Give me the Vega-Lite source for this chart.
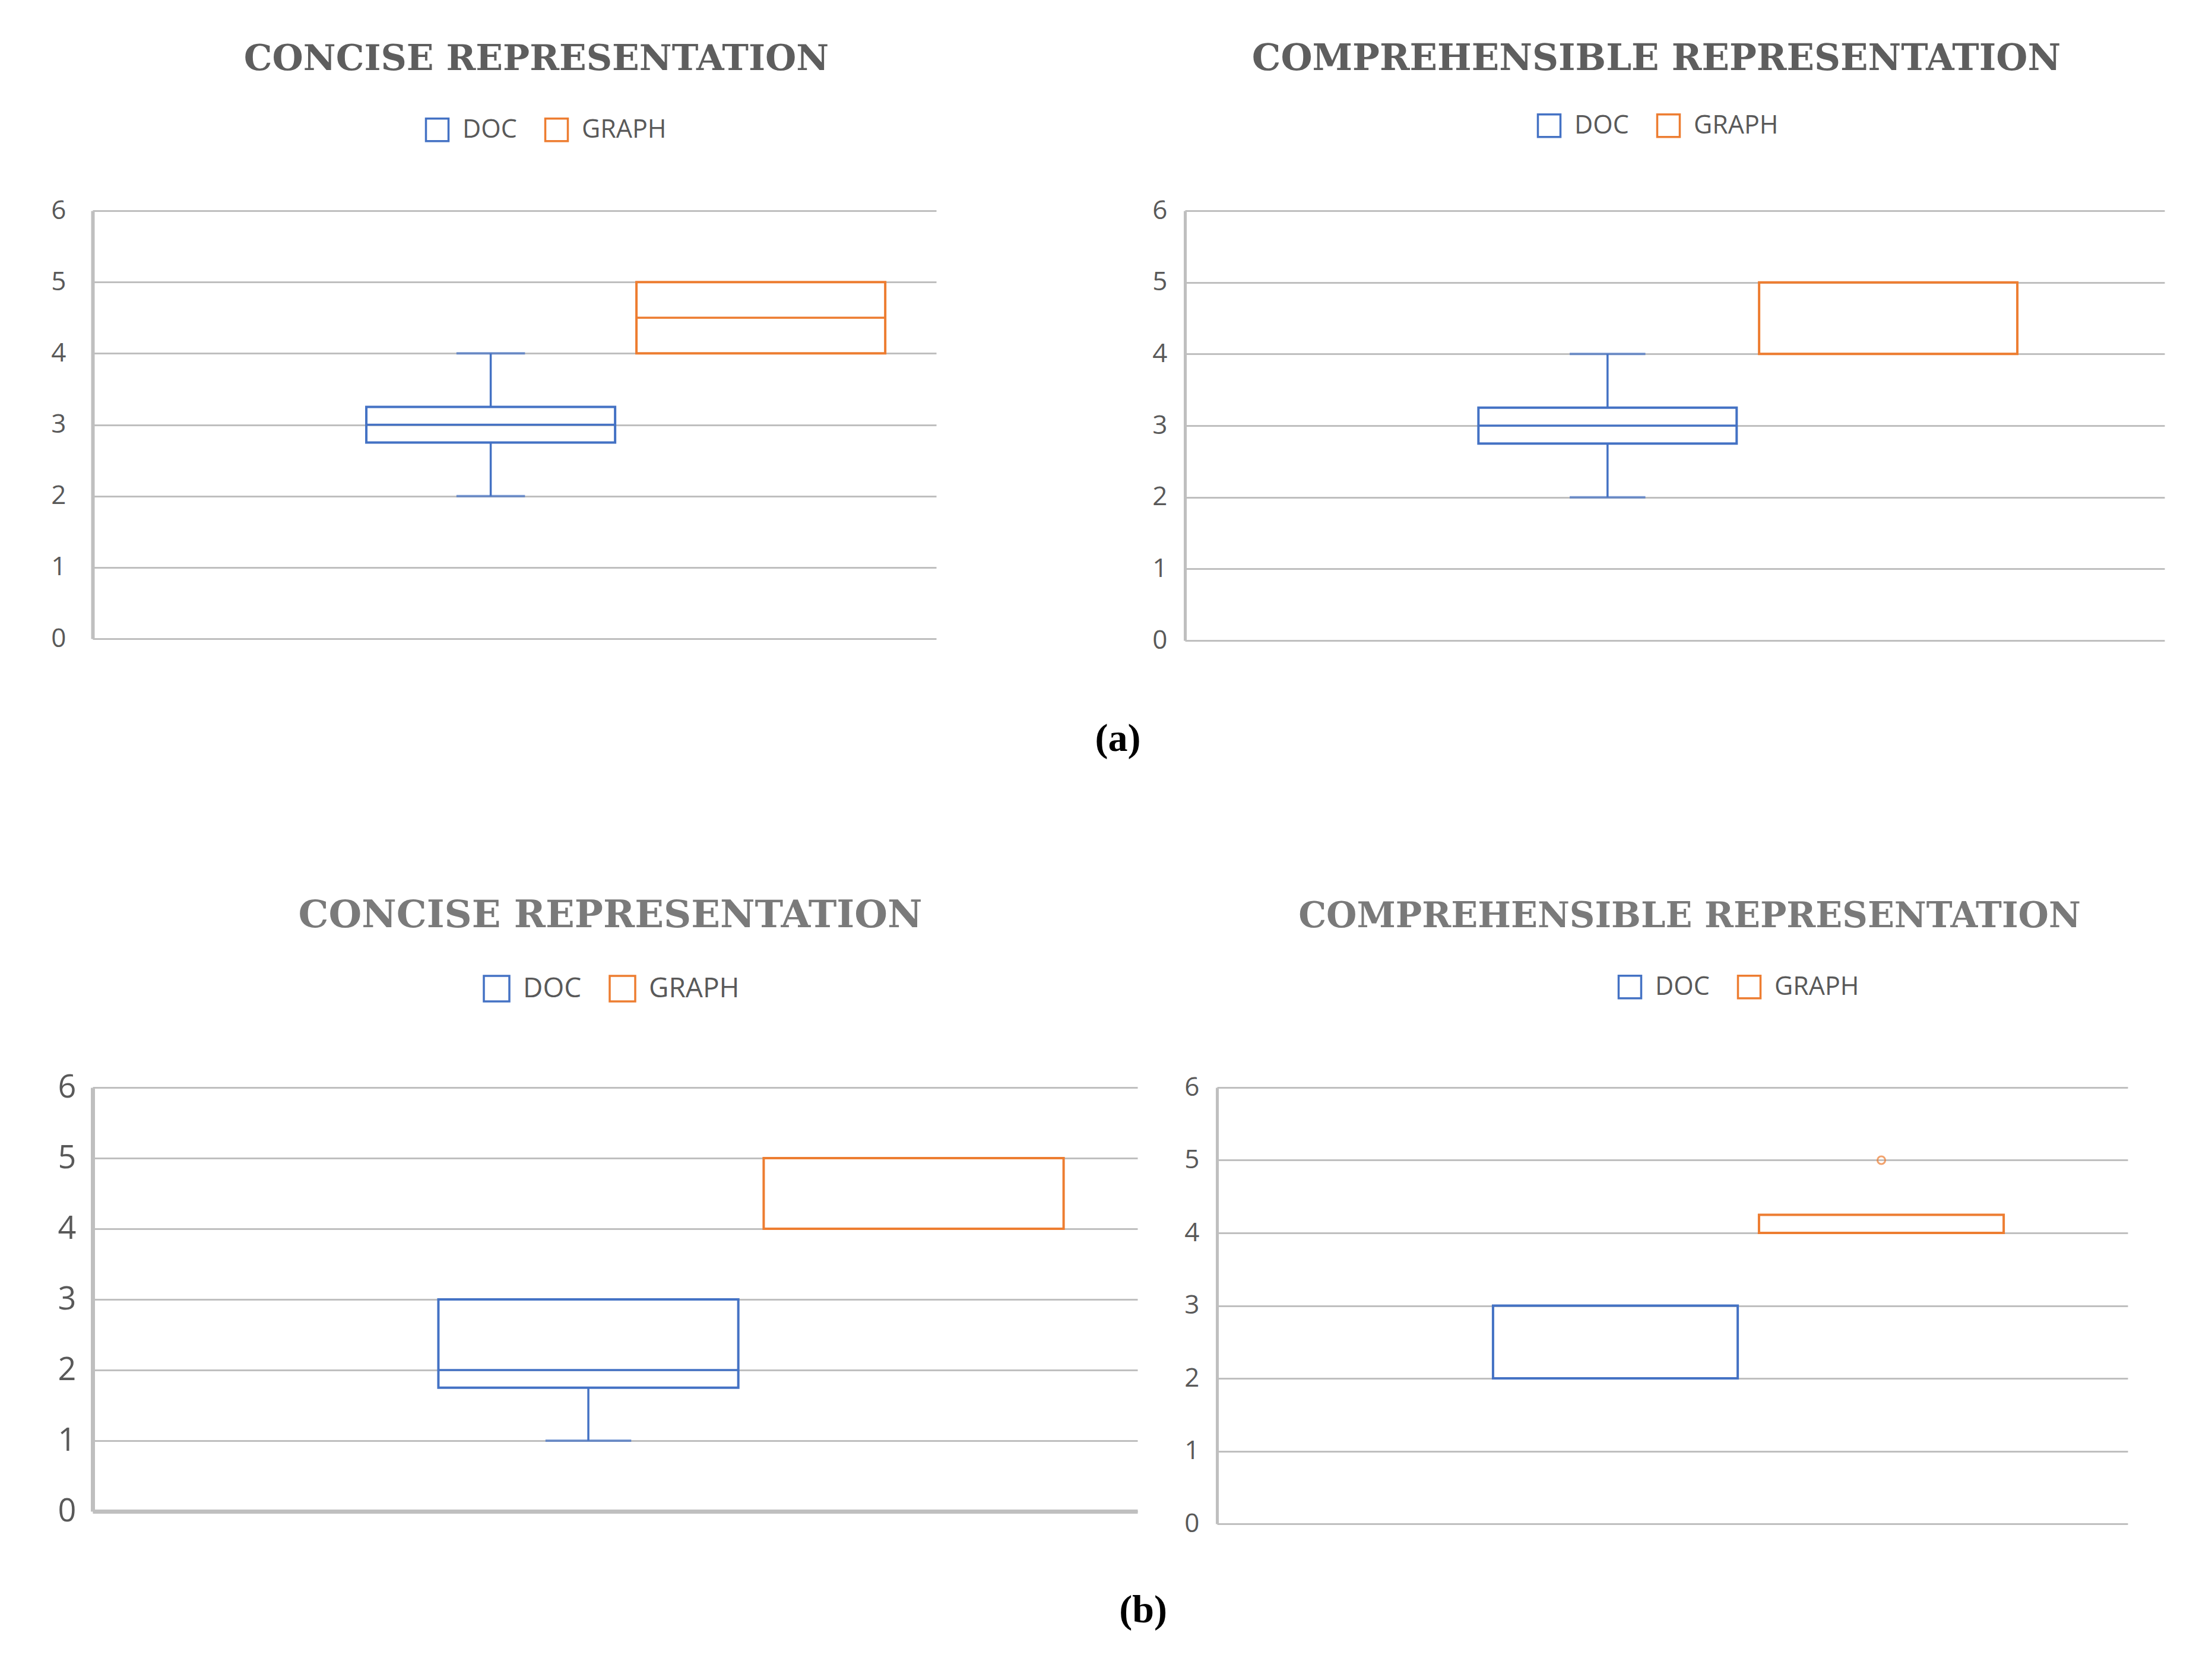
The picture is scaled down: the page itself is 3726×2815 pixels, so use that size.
{
  "$schema": "https://vega.github.io/schema/vega-lite/v6.json",
  "background": "white",
  "padding": {"left": 85, "top": 69, "right": 10, "bottom": 10},
  "datasets": {
    "box": [
      {"panel": "a1", "group": "DOC", "min": 2, "q1": 2.75, "median": 3, "q3": 3.25, "max": 4, "outlier": null},
      {"panel": "a1", "group": "GRAPH", "min": 4, "q1": 4, "median": 4.5, "q3": 5, "max": 5, "outlier": null},
      {"panel": "a2", "group": "DOC", "min": 2, "q1": 2.75, "median": 3, "q3": 3.25, "max": 4, "outlier": null},
      {"panel": "a2", "group": "GRAPH", "min": 4, "q1": 4, "median": 4, "q3": 5, "max": 5, "outlier": null},
      {"panel": "b1", "group": "DOC", "min": 1, "q1": 1.75, "median": 2, "q3": 3, "max": 3, "outlier": null},
      {"panel": "b1", "group": "GRAPH", "min": 4, "q1": 4, "median": 4, "q3": 5, "max": 5, "outlier": null},
      {"panel": "b2", "group": "DOC", "min": 2, "q1": 2, "median": 2, "q3": 3, "max": 3, "outlier": null},
      {"panel": "b2", "group": "GRAPH", "min": 4, "q1": 4, "median": 4, "q3": 4.25, "max": 4.25, "outlier": 5}
    ]
  },
  "data": {"name": "box"},
  "columns": 1,
  "align": "none",
  "spacing": 233,
  "concat": [
    {
      "spacing": 363,
      "title": {"text": "(a)", "orient": "bottom", "anchor": "middle", "dx": 17, "offset": 112, "fontSize": 66, "font": "Liberation Serif", "fontWeight": "bold", "color": "#000000"},
      "resolve": {"scale": {"x": "independent", "y": "independent", "color": "independent"}, "legend": {"color": "independent"}},
      "hconcat": [
        {
          "width": 1421, "height": 721,
          "title": {"text": "CONCISE REPRESENTATION", "dx": 37, "offset": 66, "fontSize": 60, "color": "#5e5e5e"},
          "transform": [{"filter": "datum.panel === 'a1'"}],
          "encoding": {
            "x": {"field": "group", "type": "nominal", "scale": {"domain": ["DOC", "GRAPH"], "paddingInner": 0.079, "paddingOuter": 0.601, "align": 0.843}, "axis": null},
            "color": {"field": "group", "type": "nominal", "scale": {"domain": ["DOC", "GRAPH"], "range": ["#4472C4", "#ED7D31"]}, "legend": {"title": null, "legendX": 559, "legendY": -158}}
          },
          "layer": [
            {"mark": {"type": "bar", "filled": false, "strokeWidth": 4}, "encoding": {"y": {"field": "q1", "type": "quantitative", "title": null, "scale": {"domain": [0, 6]}, "axis": {"title": null, "values": [0, 1, 2, 3, 4, 5, 6], "grid": true, "gridColor": "#bfbfbf", "gridWidth": 3, "domainColor": "#bfbfbf", "domainWidth": 6, "ticks": false, "labelFontSize": 44, "labelColor": "#595959", "labelFont": "Open Sans", "labelPadding": 45}}, "y2": {"field": "q3"}}},
            {"mark": {"type": "bar", "filled": false, "strokeWidth": 3.5}, "encoding": {"y": {"field": "median", "type": "quantitative", "title": null, "axis": {"title": null, "values": [0, 1, 2, 3, 4, 5, 6], "grid": true, "gridColor": "#bfbfbf", "gridWidth": 3, "domainColor": "#bfbfbf", "domainWidth": 6, "ticks": false, "labelFontSize": 44, "labelColor": "#595959", "labelFont": "Open Sans", "labelPadding": 45}}, "y2": {"field": "median"}}},
            {"transform": [{"filter": "datum.min < datum.q1"}], "mark": {"type": "rule", "strokeWidth": 3.5}, "encoding": {"y": {"field": "min", "type": "quantitative", "title": null, "axis": {"title": null, "values": [0, 1, 2, 3, 4, 5, 6], "grid": true, "gridColor": "#bfbfbf", "gridWidth": 3, "domainColor": "#bfbfbf", "domainWidth": 6, "ticks": false, "labelFontSize": 44, "labelColor": "#595959", "labelFont": "Open Sans", "labelPadding": 45}}, "y2": {"field": "q1"}}},
            {"transform": [{"filter": "datum.max > datum.q3"}], "mark": {"type": "rule", "strokeWidth": 3.5}, "encoding": {"y": {"field": "q3", "type": "quantitative", "title": null, "axis": {"title": null, "values": [0, 1, 2, 3, 4, 5, 6], "grid": true, "gridColor": "#bfbfbf", "gridWidth": 3, "domainColor": "#bfbfbf", "domainWidth": 6, "ticks": false, "labelFontSize": 44, "labelColor": "#595959", "labelFont": "Open Sans", "labelPadding": 45}}, "y2": {"field": "max"}}},
            {"transform": [{"filter": "datum.min < datum.q1"}], "mark": {"type": "tick", "filled": false, "size": 112, "thickness": 0.5, "strokeWidth": 3.5}, "encoding": {"y": {"field": "min", "type": "quantitative", "title": null, "axis": {"title": null, "values": [0, 1, 2, 3, 4, 5, 6], "grid": true, "gridColor": "#bfbfbf", "gridWidth": 3, "domainColor": "#bfbfbf", "domainWidth": 6, "ticks": false, "labelFontSize": 44, "labelColor": "#595959", "labelFont": "Open Sans", "labelPadding": 45}}}},
            {"transform": [{"filter": "datum.max > datum.q3"}], "mark": {"type": "tick", "filled": false, "size": 112, "thickness": 0.5, "strokeWidth": 3.5}, "encoding": {"y": {"field": "max", "type": "quantitative", "title": null, "axis": {"title": null, "values": [0, 1, 2, 3, 4, 5, 6], "grid": true, "gridColor": "#bfbfbf", "gridWidth": 3, "domainColor": "#bfbfbf", "domainWidth": 6, "ticks": false, "labelFontSize": 44, "labelColor": "#595959", "labelFont": "Open Sans", "labelPadding": 45}}}}
          ]
        },
        {
          "width": 1650, "height": 724,
          "title": {"text": "COMPREHENSIBLE REPRESENTATION", "dx": -31, "offset": 59, "fontSize": 61, "color": "#5e5e5e"},
          "transform": [{"filter": "datum.panel === 'a2'"}],
          "encoding": {
            "x": {"field": "group", "type": "nominal", "scale": {"domain": ["DOC", "GRAPH"], "paddingInner": 0.08, "paddingOuter": 0.785, "align": 0.666}, "axis": null},
            "color": {"field": "group", "type": "nominal", "scale": {"domain": ["DOC", "GRAPH"], "range": ["#4472C4", "#ED7D31"]}, "legend": {"title": null, "legendX": 592, "legendY": -165}}
          },
          "layer": [
            {"mark": {"type": "bar", "filled": false, "strokeWidth": 4}, "encoding": {"y": {"field": "q1", "type": "quantitative", "title": null, "scale": {"domain": [0, 6]}, "axis": {"title": null, "values": [0, 1, 2, 3, 4, 5, 6], "grid": true, "gridColor": "#bfbfbf", "gridWidth": 3, "domainColor": "#bfbfbf", "domainWidth": 5, "ticks": false, "labelFontSize": 44, "labelColor": "#595959", "labelFont": "Open Sans", "labelPadding": 30}}, "y2": {"field": "q3"}}},
            {"mark": {"type": "bar", "filled": false, "strokeWidth": 3.5}, "encoding": {"y": {"field": "median", "type": "quantitative", "title": null, "axis": {"title": null, "values": [0, 1, 2, 3, 4, 5, 6], "grid": true, "gridColor": "#bfbfbf", "gridWidth": 3, "domainColor": "#bfbfbf", "domainWidth": 5, "ticks": false, "labelFontSize": 44, "labelColor": "#595959", "labelFont": "Open Sans", "labelPadding": 30}}, "y2": {"field": "median"}}},
            {"transform": [{"filter": "datum.min < datum.q1"}], "mark": {"type": "rule", "strokeWidth": 3.5}, "encoding": {"y": {"field": "min", "type": "quantitative", "title": null, "axis": {"title": null, "values": [0, 1, 2, 3, 4, 5, 6], "grid": true, "gridColor": "#bfbfbf", "gridWidth": 3, "domainColor": "#bfbfbf", "domainWidth": 5, "ticks": false, "labelFontSize": 44, "labelColor": "#595959", "labelFont": "Open Sans", "labelPadding": 30}}, "y2": {"field": "q1"}}},
            {"transform": [{"filter": "datum.max > datum.q3"}], "mark": {"type": "rule", "strokeWidth": 3.5}, "encoding": {"y": {"field": "q3", "type": "quantitative", "title": null, "axis": {"title": null, "values": [0, 1, 2, 3, 4, 5, 6], "grid": true, "gridColor": "#bfbfbf", "gridWidth": 3, "domainColor": "#bfbfbf", "domainWidth": 5, "ticks": false, "labelFontSize": 44, "labelColor": "#595959", "labelFont": "Open Sans", "labelPadding": 30}}, "y2": {"field": "max"}}},
            {"transform": [{"filter": "datum.min < datum.q1"}], "mark": {"type": "tick", "filled": false, "size": 124, "thickness": 0.5, "strokeWidth": 3.5}, "encoding": {"y": {"field": "min", "type": "quantitative", "title": null, "axis": {"title": null, "values": [0, 1, 2, 3, 4, 5, 6], "grid": true, "gridColor": "#bfbfbf", "gridWidth": 3, "domainColor": "#bfbfbf", "domainWidth": 5, "ticks": false, "labelFontSize": 44, "labelColor": "#595959", "labelFont": "Open Sans", "labelPadding": 30}}}},
            {"transform": [{"filter": "datum.max > datum.q3"}], "mark": {"type": "tick", "filled": false, "size": 124, "thickness": 0.5, "strokeWidth": 3.5}, "encoding": {"y": {"field": "max", "type": "quantitative", "title": null, "axis": {"title": null, "values": [0, 1, 2, 3, 4, 5, 6], "grid": true, "gridColor": "#bfbfbf", "gridWidth": 3, "domainColor": "#bfbfbf", "domainWidth": 5, "ticks": false, "labelFontSize": 44, "labelColor": "#595959", "labelFont": "Open Sans", "labelPadding": 30}}}}
          ]
        }
      ]
    },
    {
      "spacing": 78,
      "title": {"text": "(b)", "orient": "bottom", "anchor": "middle", "dx": 85, "offset": 92, "fontSize": 66, "font": "Liberation Serif", "fontWeight": "bold", "color": "#000000"},
      "resolve": {"scale": {"x": "independent", "y": "independent", "color": "independent"}, "legend": {"color": "independent"}},
      "hconcat": [
        {
          "width": 1760, "height": 714,
          "title": {"text": "CONCISE REPRESENTATION", "dx": -8, "offset": 67, "fontSize": 64, "color": "#7a7a7a"},
          "transform": [{"filter": "datum.panel === 'b1'"}],
          "encoding": {
            "x": {"field": "group", "type": "nominal", "scale": {"domain": ["DOC", "GRAPH"], "paddingInner": 0.078, "paddingOuter": 0.645, "align": 0.824}, "axis": {"title": null, "labels": false, "ticks": false, "grid": false, "domainColor": "#bfbfbf", "domainWidth": 7}},
            "color": {"field": "group", "type": "nominal", "scale": {"domain": ["DOC", "GRAPH"], "range": ["#4472C4", "#ED7D31"]}, "legend": {"title": null, "legendX": 657, "legendY": -190, "symbolSize": 1849, "labelFontSize": 46}}
          },
          "layer": [
            {"mark": {"type": "bar", "filled": false, "strokeWidth": 4}, "encoding": {"y": {"field": "q1", "type": "quantitative", "title": null, "scale": {"domain": [0, 6]}, "axis": {"title": null, "values": [0, 1, 2, 3, 4, 5, 6], "grid": true, "gridColor": "#bfbfbf", "gridWidth": 3, "domainColor": "#bfbfbf", "domainWidth": 7, "ticks": false, "labelFontSize": 54, "labelColor": "#595959", "labelFont": "Open Sans", "labelPadding": 28}}, "y2": {"field": "q3"}}},
            {"mark": {"type": "bar", "filled": false, "strokeWidth": 3.5}, "encoding": {"y": {"field": "median", "type": "quantitative", "title": null, "axis": {"title": null, "values": [0, 1, 2, 3, 4, 5, 6], "grid": true, "gridColor": "#bfbfbf", "gridWidth": 3, "domainColor": "#bfbfbf", "domainWidth": 7, "ticks": false, "labelFontSize": 54, "labelColor": "#595959", "labelFont": "Open Sans", "labelPadding": 28}}, "y2": {"field": "median"}}},
            {"transform": [{"filter": "datum.min < datum.q1"}], "mark": {"type": "rule", "strokeWidth": 3.5}, "encoding": {"y": {"field": "min", "type": "quantitative", "title": null, "axis": {"title": null, "values": [0, 1, 2, 3, 4, 5, 6], "grid": true, "gridColor": "#bfbfbf", "gridWidth": 3, "domainColor": "#bfbfbf", "domainWidth": 7, "ticks": false, "labelFontSize": 54, "labelColor": "#595959", "labelFont": "Open Sans", "labelPadding": 28}}, "y2": {"field": "q1"}}},
            {"transform": [{"filter": "datum.max > datum.q3"}], "mark": {"type": "rule", "strokeWidth": 3.5}, "encoding": {"y": {"field": "q3", "type": "quantitative", "title": null, "axis": {"title": null, "values": [0, 1, 2, 3, 4, 5, 6], "grid": true, "gridColor": "#bfbfbf", "gridWidth": 3, "domainColor": "#bfbfbf", "domainWidth": 7, "ticks": false, "labelFontSize": 54, "labelColor": "#595959", "labelFont": "Open Sans", "labelPadding": 28}}, "y2": {"field": "max"}}},
            {"transform": [{"filter": "datum.min < datum.q1"}], "mark": {"type": "tick", "filled": false, "size": 141, "thickness": 0.5, "strokeWidth": 3.5}, "encoding": {"y": {"field": "min", "type": "quantitative", "title": null, "axis": {"title": null, "values": [0, 1, 2, 3, 4, 5, 6], "grid": true, "gridColor": "#bfbfbf", "gridWidth": 3, "domainColor": "#bfbfbf", "domainWidth": 7, "ticks": false, "labelFontSize": 54, "labelColor": "#595959", "labelFont": "Open Sans", "labelPadding": 28}}}},
            {"transform": [{"filter": "datum.max > datum.q3"}], "mark": {"type": "tick", "filled": false, "size": 141, "thickness": 0.5, "strokeWidth": 3.5}, "encoding": {"y": {"field": "max", "type": "quantitative", "title": null, "axis": {"title": null, "values": [0, 1, 2, 3, 4, 5, 6], "grid": true, "gridColor": "#bfbfbf", "gridWidth": 3, "domainColor": "#bfbfbf", "domainWidth": 7, "ticks": false, "labelFontSize": 54, "labelColor": "#595959", "labelFont": "Open Sans", "labelPadding": 28}}}}
          ]
        },
        {
          "width": 1534, "height": 735,
          "title": {"text": "COMPREHENSIBLE REPRESENTATION", "dx": 29, "offset": 67, "fontSize": 59, "color": "#7a7a7a"},
          "transform": [{"filter": "datum.panel === 'b2'"}],
          "encoding": {
            "x": {"field": "group", "type": "nominal", "scale": {"domain": ["DOC", "GRAPH"], "paddingInner": 0.08, "paddingOuter": 0.752, "align": 0.69}, "axis": null},
            "color": {"field": "group", "type": "nominal", "scale": {"domain": ["DOC", "GRAPH"], "range": ["#4472C4", "#ED7D31"]}, "legend": {"title": null, "legendX": 674, "legendY": -191}}
          },
          "layer": [
            {"mark": {"type": "bar", "filled": false, "strokeWidth": 4}, "encoding": {"y": {"field": "q1", "type": "quantitative", "title": null, "scale": {"domain": [0, 6]}, "axis": {"title": null, "values": [0, 1, 2, 3, 4, 5, 6], "grid": true, "gridColor": "#bfbfbf", "gridWidth": 3, "domainColor": "#bfbfbf", "domainWidth": 5, "ticks": false, "labelFontSize": 44, "labelColor": "#595959", "labelFont": "Open Sans", "labelPadding": 30}}, "y2": {"field": "q3"}}},
            {"mark": {"type": "bar", "filled": false, "strokeWidth": 3.5}, "encoding": {"y": {"field": "median", "type": "quantitative", "title": null, "axis": {"title": null, "values": [0, 1, 2, 3, 4, 5, 6], "grid": true, "gridColor": "#bfbfbf", "gridWidth": 3, "domainColor": "#bfbfbf", "domainWidth": 5, "ticks": false, "labelFontSize": 44, "labelColor": "#595959", "labelFont": "Open Sans", "labelPadding": 30}}, "y2": {"field": "median"}}},
            {"transform": [{"filter": "datum.outlier != null"}], "mark": {"type": "point", "filled": false, "size": 170, "strokeWidth": 3}, "encoding": {"y": {"field": "outlier", "type": "quantitative", "title": null, "axis": {"title": null, "values": [0, 1, 2, 3, 4, 5, 6], "grid": true, "gridColor": "#bfbfbf", "gridWidth": 3, "domainColor": "#bfbfbf", "domainWidth": 5, "ticks": false, "labelFontSize": 44, "labelColor": "#595959", "labelFont": "Open Sans", "labelPadding": 30}}}}
          ]
        }
      ]
    }
  ],
  "config": {
    "view": {"stroke": null},
    "title": {"font": "DejaVu Serif", "fontWeight": "bold", "anchor": "middle"},
    "legend": {"orient": "none", "direction": "horizontal", "symbolType": "square", "symbolSize": 1444, "symbolStrokeWidth": 3.5, "labelFontSize": 43, "labelFont": "Open Sans", "labelColor": "#595959", "labelOffset": 21, "columnPadding": 40, "padding": 0}
  }
}
